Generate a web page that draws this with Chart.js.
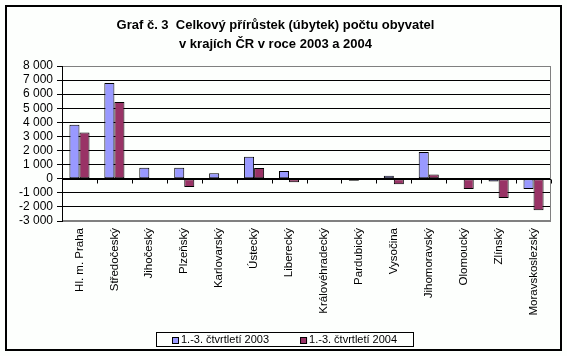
<!DOCTYPE html>
<html>
<head>
<meta charset="utf-8">
<script src="https://cdn.jsdelivr.net/npm/chart.js@4"></script>
<style>
html,body{margin:0;padding:0;background:#fdfffd;}
#wrap{width:567px;height:356px;position:relative;}
</style>
</head>
<body>
<div id="wrap"><canvas id="c" width="567" height="356"></canvas></div>
<script>
const categories = ["Hl. m. Praha","Středočeský","Jihočeský","Plzeňský","Karlovarský","Ústecký","Liberecký","Královéhradecký","Pardubický","Vysočina","Jihomoravský","Olomoucký","Zlínský","Moravskoslezský"];
const seriesNames = ["1.-3. čtvrtletí 2003","1.-3. čtvrtletí 2004"];
const values2003 = [3830, 6790, 780, 780, 380, 1560, 540, 60, -150, 220, 1900, -30, -190, -730];
const values2004 = [3280, 5450, -60, -590, 0, 770, -250, 0, 0, -390, 300, -730, -1370, -2230];
const yTicks = [-3000,-2000,-1000,0,1000,2000,3000,4000,5000,6000,7000,8000];
const titleLines = ["Graf č. 3  Celkový přírůstek (úbytek) počtu obyvatel","v krajích ČR v roce 2003 a 2004"];

function fmt(v){
  const s = String(Math.abs(v)).replace(/\B(?=(\d{3})+(?!\d))/g,' ');
  return (v<0?'-':'') + s;
}

const framePlugin = {
  id:'frame',
  beforeDraw(chart){
    const ctx = chart.ctx;
    ctx.save();
    ctx.fillStyle = '#fdfffd';
    ctx.fillRect(0,0,chart.width,chart.height);
    ctx.strokeStyle = '#000';
    ctx.lineWidth = 2;
    ctx.strokeRect(6,6,chart.width-12,chart.height-12);
    ctx.restore();
  },
  beforeDatasetsDraw(chart){
    const ctx = chart.ctx, a = chart.chartArea;
    ctx.save();
    ctx.strokeStyle = '#808080';
    ctx.lineWidth = 1;
    ctx.strokeRect(Math.round(a.left)+0.5, Math.round(a.top)+0.5, Math.round(a.right-a.left)-1, Math.round(a.bottom-a.top)-1);
    ctx.strokeStyle = '#000';
    ctx.beginPath();
    ctx.moveTo(Math.round(a.left)+0.5, a.top);
    ctx.lineTo(Math.round(a.left)+0.5, a.bottom);
    ctx.stroke();
    ctx.restore();
  },
  afterDatasetsDraw(chart){
    const ctx = chart.ctx, a = chart.chartArea;
    const ys = chart.scales.y;
    const y0 = Math.round(ys.getPixelForValue(0))+0.5;
    ctx.save();
    ctx.strokeStyle = '#000';
    ctx.lineWidth = 1;
    ctx.beginPath();
    ctx.moveTo(a.left, y0); ctx.lineTo(a.right, y0);
    const n = categories.length;
    const w = (a.right - a.left)/n;
    for(let i=1;i<=n;i++){
      const x = Math.round(a.left + i*w)+0.5;
      ctx.moveTo(x, y0); ctx.lineTo(x, y0+4);
    }
    ctx.stroke();
    ctx.restore();
  },
  afterDraw(chart){
    const ctx = chart.ctx;
    const ds = chart.data.datasets;
    ctx.save();
    ctx.font = '11px Arial, "Liberation Sans", sans-serif';
    ctx.textBaseline = 'middle';
    const sq = 7, gap = 2, itemGap = 31, padX = 16;
    const widths = ds.map(d => sq + gap + ctx.measureText(d.label).width);
    const inner = widths.reduce((s,v)=>s+v,0) + itemGap*(ds.length-1);
    const boxW = inner + padX*2, boxH = 14;
    const boxL = Math.round(chart.width/2 + 1 - boxW/2);
    const boxT = chart.height - 24;
    ctx.strokeStyle = '#000';
    ctx.lineWidth = 1;
    ctx.strokeRect(boxL+0.5, boxT+0.5, Math.round(boxW), boxH);
    let x = boxL + padX;
    const cy = boxT + boxH/2 + 1;
    ds.forEach((d,i)=>{
      ctx.fillStyle = d.backgroundColor;
      ctx.fillRect(x, Math.round(cy - sq/2), sq, sq);
      ctx.strokeRect(x+0.5, Math.round(cy - sq/2)+0.5, sq-1, sq-1);
      ctx.fillStyle = '#000';
      ctx.fillText(d.label, x + sq + gap, cy);
      x += widths[i] + itemGap;
    });
    ctx.restore();
  }
};

new Chart(document.getElementById('c'), {
  type:'bar',
  data:{
    labels: categories,
    datasets:[
      {label: seriesNames[0], data: values2003, backgroundColor:'#9999ff', borderColor:'#000', borderWidth:1, borderSkipped:false},
      {label: seriesNames[1], data: values2004, backgroundColor:'#993366', borderColor:'#000', borderWidth:1, borderSkipped:false}
    ]
  },
  options:{
    responsive:false,
    animation:false,
    devicePixelRatio:1,
    layout:{padding:{left:0,right:16,top:0,bottom:0}},
    datasets:{bar:{barPercentage:1, categoryPercentage:0.575}},
    plugins:{
      legend:{display:false},
      tooltip:{enabled:false},
      title:{
        display:true,
        text:titleLines,
        color:'#000',
        font:{family:'Arial, "Liberation Sans", sans-serif', size:13, weight:'bold', lineHeight:'19px'},
        padding:{top:15.5,bottom:12.5}
      }
    },
    scales:{
      x:{
        grid:{display:false, drawTicks:false},
        border:{display:false},
        ticks:{
          autoSkip:false, maxRotation:90, minRotation:90, padding:7,
          color:'#000', font:{family:'Arial, "Liberation Sans", sans-serif', size:11.5}
        },
        afterFit(s){ s.height = 135; }
      },
      y:{
        min:-3000, max:8000,
        afterBuildTicks(s){ s.ticks = yTicks.map(v=>({value:v})); },
        grid:{
          color(c){ const v=c.tick && c.tick.value; return (v===8000||v===-3000)?'#808080':'#000'; },
          tickColor:'#000', tickLength:5, drawTicks:true
        },
        border:{display:true, color:'#000'},
        ticks:{
          autoSkip:false,
          padding:4, color:'#000',
          font:{family:'Arial, "Liberation Sans", sans-serif', size:12},
          callback(v){ return fmt(v); }
        },
        afterFit(s){ s.width = 62; }
      }
    }
  },
  plugins:[framePlugin]
});
</script>
</body>
</html>
